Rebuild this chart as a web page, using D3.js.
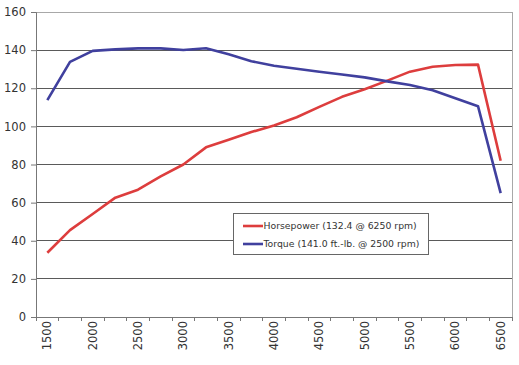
<!DOCTYPE html>
<html><head><meta charset="utf-8">
<script src="https://cdn.jsdelivr.net/npm/d3@7"></script>
<style>body{margin:0;background:#fff}</style>
</head><body>
<svg id="c" width="519" height="365"></svg>
<script>
const rpm = [1500,1750,2000,2250,2500,2750,3000,3250,3500,3750,4000,4250,4500,4750,5000,5250,5500,5750,6000,6250,6500];
const horsepower = [33.7,45.6,54,62.6,66.8,73.8,80,89,93,97,100.5,104.8,110.2,115.5,119.5,124,128.7,131.3,132.2,132.4,82];
const torque = [113.8,133.8,139.6,140.4,140.9,140.9,140.1,141,137.8,134.2,131.8,130.2,128.7,127.2,125.7,123.6,121.7,119,114.8,110.6,65];
const yTicks = [0,20,40,60,80,100,120,140,160];
const xLabels = [1500,2000,2500,3000,3500,4000,4500,5000,5500,6000,6500];
const legendLabels = ["Horsepower (132.4 @ 6250 rpm)","Torque (141.0 ft.-lb. @ 2500 rpm)"];
const colors = ["#dd3d3d","#40409e"];

const svg = d3.select("#c");
const L=36, R=512, T=12, B=317;
const x = d3.scaleBand().domain(rpm).range([L,R]);
const y = d3.scaleLinear().domain([0,160]).range([B,T]);
const font = "Verdana, 'DejaVu Sans', sans-serif";

// gridlines
svg.append("g").selectAll("line").data(yTicks.filter(d=>d>0&&d<160)).join("line")
  .attr("x1",L).attr("x2",R).attr("y1",d=>y(d)).attr("y2",d=>y(d))
  .attr("stroke","#5a5a5a").attr("stroke-width",1).attr("shape-rendering","crispEdges");
// plot border top/right
svg.append("path").attr("d",`M${L},${T}H${R}V${B}`).attr("fill","none")
  .attr("stroke","#a8a8a8").attr("shape-rendering","crispEdges");

// y axis
const ya = svg.append("g").attr("transform",`translate(${L},0)`)
  .call(d3.axisLeft(y).tickValues(yTicks).tickSize(5).tickPadding(5));
ya.select(".domain").attr("stroke","#777");
ya.selectAll(".tick line").attr("stroke","#777");
ya.selectAll("text").attr("font-family",font).attr("font-size",11.5).attr("fill","#333");

// x axis
const xa = svg.append("g").attr("transform",`translate(0,${B})`)
  .call(d3.axisBottom(x).tickSize(0).tickFormat(d=>xLabels.includes(d)?d:""));
xa.select(".domain").attr("stroke","#777");
xa.selectAll("text").attr("font-family",font).attr("font-size",11.5).attr("fill","#333")
  .attr("transform","rotate(-90)").attr("text-anchor","end").attr("dx","-4").attr("dy","0.35em").attr("x",0).attr("y",0);
// band boundary ticks
svg.append("g").selectAll("line").data(rpm.concat([null])).join("line")
  .attr("x1",(d,i)=>L+i*x.step()).attr("x2",(d,i)=>L+i*x.step())
  .attr("y1",B).attr("y2",B+4).attr("stroke","#777").attr("shape-rendering","crispEdges");

// lines
const line = d3.line().x((d,i)=>x(rpm[i])+x.bandwidth()/2).y(d=>y(d));
[horsepower,torque].forEach((s,k)=>{
  svg.append("path").datum(s).attr("d",line).attr("fill","none")
    .attr("stroke",colors[k]).attr("stroke-width",2.6).attr("stroke-linejoin","round");
});

// legend
const lg = svg.append("g").attr("transform","translate(233,213)");
lg.append("rect").attr("x",0.5).attr("y",0.5).attr("width",195).attr("height",41)
  .attr("fill","#fff").attr("stroke","#666");
legendLabels.forEach((t,i)=>{
  const yy = 13+i*18;
  lg.append("line").attr("x1",10).attr("x2",30).attr("y1",yy).attr("y2",yy)
    .attr("stroke",colors[i]).attr("stroke-width",2.6);
  lg.append("text").attr("x",30.5).attr("y",yy).attr("dy","0.35em")
    .attr("font-family",font).attr("font-size",9.3).attr("fill","#333").text(t);
});
</script>
</body></html>
